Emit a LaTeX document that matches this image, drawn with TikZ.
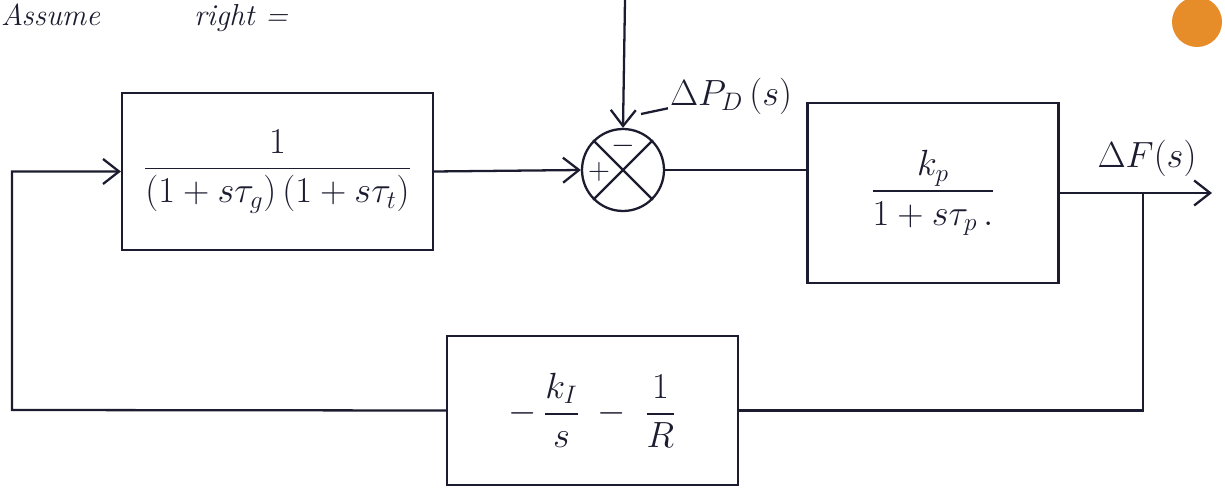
\documentclass[tikz,border=0pt]{standalone}
\usepackage{amsmath}
\usetikzlibrary{arrows.meta}
\definecolor{ink}{RGB}{28,28,48}
\definecolor{dot}{RGB}{230,140,40}
\begin{document}
\begin{tikzpicture}[x=0.02cm,y=-0.02cm,
  ink line/.style={draw=ink,line width=1.3pt},
  blk/.style={ink line,rectangle,inner sep=0pt,text=ink},
  sumnode/.style={ink line,circle,minimum size=1.64cm,inner sep=0pt},
  lbl/.style={text=ink,inner sep=1pt},
  arr/.style={ink line,-{Straight Barb[length=3.2mm,width=5mm]}}]
\useasboundingbox (0,0) rectangle (1225,493);
% header fragments
\node[lbl,anchor=north east] (hA) at (102,2) {\LARGE\itshape Assume};
\node[lbl,anchor=north west] (hB) at (192,2) {\LARGE\itshape right =};
\fill[dot] (1197,22) circle[radius=0.5cm];
% blocks
\node[blk,minimum width=6.22cm,minimum height=3.14cm] (b1) at (277.5,171.5)
  {\huge$\dfrac{1}{(1+s\tau_g)\,(1+s\tau_t)}$};
\node[sumnode] (sum) at (623,170) {};
\node[blk,minimum width=5.02cm,minimum height=3.6cm] (b3) at (933,193)
  {\huge$\dfrac{k_p}{1+s\tau_p\,.}$};
\node[blk,minimum width=5.82cm,minimum height=2.98cm] (b2) at (592.5,410.5)
  {\huge$-\,\dfrac{k_I}{s}\;-\;\dfrac{1}{R}$};
% summer details
\draw[ink line] (sum.north west) -- (sum.south east);
\draw[ink line] (sum.north east) -- (sum.south west);
\node[lbl,font=\LARGE] (plus) at (599,172) {$+$};
\node[lbl,font=\LARGE] (minus) at (623,146) {$-$};
% coordinates
\coordinate (dtop) at (625,0);
\coordinate (out) at (1212,193);
\coordinate (br) at (1143,193);
\coordinate (lc) at (12,410);
\coordinate (lead) at (641,114);
% labels
\node[lbl,anchor=west] (dpd) at (668,96) {\huge$\Delta P_D\,(s)$};
\node[lbl] (df) at (1147,158) {\huge$\Delta F(s)$};
\draw[ink line] (dpd.south west) ++(0,-8) -- (lead);
% connectors
\draw[arr] (dtop) -- (sum.north);
\draw[arr] (b1.east) -- (sum.west);
\draw[ink line] (sum.east) -- (sum.east -| b3.west);
\draw[arr] (b3.east) -- (out);
\draw[ink line] (br) |- (b2.east);
\draw[arr] (b2.west) -- (lc) |- (b1.west);
\end{tikzpicture}
\end{document}
